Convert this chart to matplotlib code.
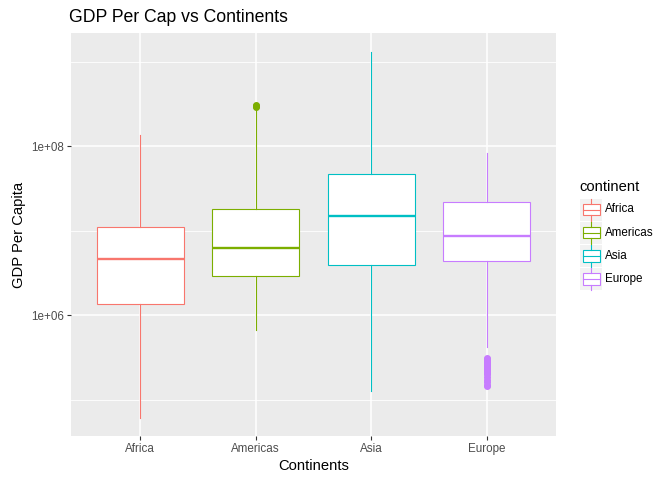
import matplotlib

matplotlib.use("Agg")

import matplotlib.pyplot as plt
from matplotlib.patches import Rectangle

plt.rcParams["font.family"] = ["Liberation Sans", "DejaVu Sans"]

# log10 of the box stats
continents = ["Africa", "Americas", "Asia", "Europe"]
colors = ["#F8766D", "#7CAE00", "#00BFC4", "#C77CFF"]
whis_lo = [4.79, 5.83, 5.10, 5.63]
q1 = [6.13, 6.47, 6.59, 6.64]
median = [6.67, 6.80, 7.18, 6.94]
q3 = [7.04, 7.26, 7.67, 7.34]
whis_hi = [8.13, 8.45, 9.12, 7.92]
outliers = [
    [],
    [8.47, 8.48, 8.49],
    [],
    [5.49, 5.48, 5.47, 5.46, 5.45, 5.44, 5.43, 5.42, 5.41, 5.40, 5.39, 5.38,
     5.37, 5.36, 5.35, 5.34, 5.32, 5.30, 5.27, 5.24, 5.21, 5.18, 5.16],
]

y_ticks = [1e6, 1e8]
y_tick_labels = ["1e+06", "1e+08"]
y_minor = [1e5, 1e7, 1e9]

W, H = 672, 480
fig = plt.figure(figsize=(W / 100, H / 100), dpi=100)
ax = fig.add_axes([71 / W, 1 - 436 / H, (556 - 71) / W, (436 - 33) / H])
ax.set_facecolor("#EBEBEB")
for s in ax.spines.values():
    s.set_visible(False)

ax.set_yscale("log")
ax.set_ylim(10 ** 4.572, 10 ** 9.341)
ax.set_xlim(0.4, 4.6)

for y in y_minor:
    ax.axhline(y, color="white", lw=0.6, zorder=0)
for y in y_ticks:
    ax.axhline(y, color="white", lw=1.1, zorder=0)
for i in range(len(continents)):
    ax.axvline(i + 1, color="white", lw=1.1, zorder=0)

for i, c in enumerate(continents):
    stats = [{
        "med": 10 ** median[i], "q1": 10 ** q1[i], "q3": 10 ** q3[i],
        "whislo": 10 ** whis_lo[i], "whishi": 10 ** whis_hi[i],
        "fliers": [10 ** v for v in outliers[i]], "label": c,
    }]
    col = colors[i]
    ax.bxp(stats, positions=[i + 1], widths=0.75, patch_artist=True,
           showcaps=False, manage_ticks=False,
           boxprops=dict(facecolor="white", edgecolor=col, lw=0.8),
           medianprops=dict(color=col, lw=1.7),
           whiskerprops=dict(color=col, lw=0.8),
           flierprops=dict(marker="o", markerfacecolor=col, markeredgecolor=col,
                           markersize=4))

ax.set_xticks(range(1, len(continents) + 1))
ax.set_xticklabels(continents)
ax.set_yticks(y_ticks)
ax.set_yticklabels(y_tick_labels)
ax.set_yticks([], minor=True)
ax.tick_params(length=2.7, width=0.8, color="#333333", labelcolor="#4D4D4D",
               labelsize=8.4, pad=2)

ax.set_xlabel("Continents", fontsize=10.6, labelpad=3)
ax.set_ylabel("GDP Per Capita", fontsize=10.6, labelpad=4)
fig.text(69 / W, 1 - 17 / H, "GDP Per Cap vs Continents", fontsize=12.7,
         va="center", ha="left")

# legend drawn in pixel coordinates
lg = fig.add_axes([0, 0, 1, 1])
lg.set_autoscale_on(False)
lg.set_xlim(0, W)
lg.set_ylim(H, 0)
lg.axis("off")
lg.text(579, 187, "continent", fontsize=10.6, va="center", ha="left")
for i, c in enumerate(continents):
    cy = 209.5 + i * 23.2
    lg.add_patch(Rectangle((580, cy - 11), 22, 22, facecolor="#F2F2F2",
                           edgecolor="none"))
    lg.add_patch(Rectangle((582.5, cy - 5.7), 17, 11.4, facecolor="white",
                           edgecolor=colors[i], lw=0.8))
    lg.plot([582.5, 599.5], [cy, cy], color=colors[i], lw=0.8)
    lg.plot([591, 591], [cy - 11, cy - 5.7], color=colors[i], lw=0.8)
    lg.plot([591, 591], [cy + 5.7, cy + 11], color=colors[i], lw=0.8)
    lg.text(605, cy, c, fontsize=8.4, va="center", ha="left")

fig.savefig("out.png", dpi=100)
plt.close(fig)
